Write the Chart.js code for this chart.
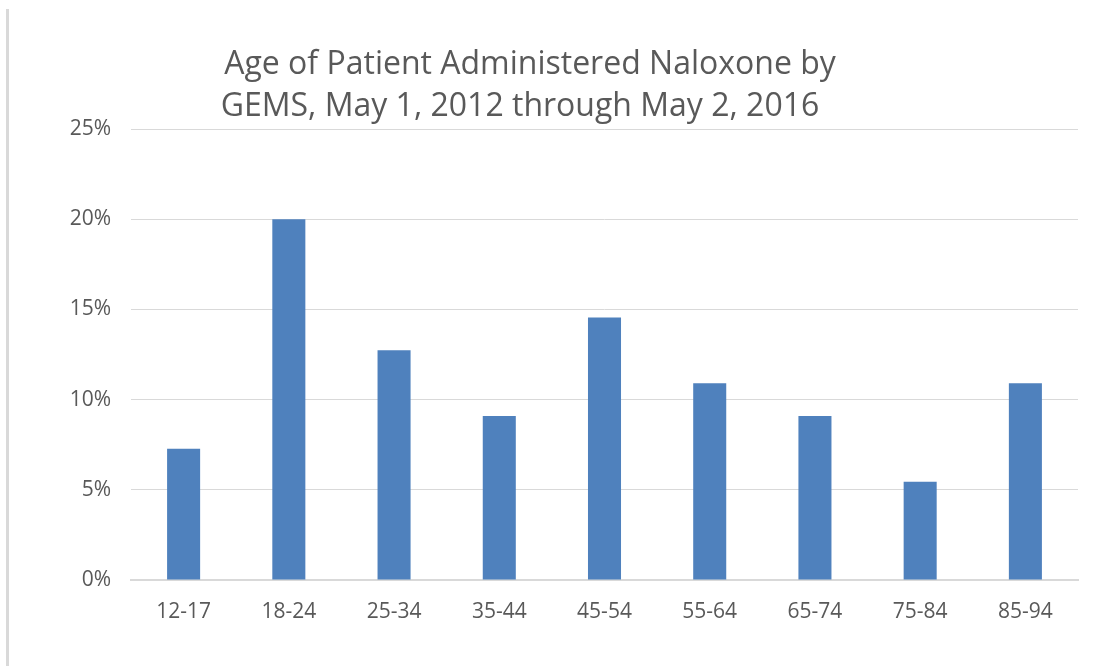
<!DOCTYPE html>
<html>
<head>
<meta charset="utf-8">
<script src="https://cdn.jsdelivr.net/npm/chart.js@4.4.0/dist/chart.umd.min.js"></script>
<style>
    html, body { margin: 0; padding: 0; background: #fff; }
    #wrap { position: relative; width: 1110px; height: 666px; }
    #edge { position: absolute; left: 6px; top: 9px; bottom: 0; width: 3px; background: #d9d9d9; }
    canvas { position: absolute; left: 0; top: 0; }
</style>
</head>
<body>
<div id="wrap">
    <div id="edge"></div>
    <canvas id="ageChart" width="1110" height="666"></canvas>
</div>
<script>
// Chart data
const ageGroups = ['12-17', '18-24', '25-34', '35-44', '45-54', '55-64', '65-74', '75-84', '85-94'];
const sharePct = [7.27, 20.0, 12.73, 9.09, 14.55, 10.91, 9.09, 5.45, 10.91];
const titleLines = ['Age of Patient Administered Naloxone by', 'GEMS, May 1, 2012 through May 2, 2016'];

const textColor = '#595959';
const gridColor = '#d9d9d9';

// Title is drawn by hand so it can sit off-centre like the original
const titlePlugin = {
    id: 'offsetTitle',
    afterDraw(chart) {
        const ctx = chart.ctx;
        ctx.save();
        ctx.fillStyle = textColor;
        ctx.font = '32px "Open Sans"';
        ctx.textAlign = 'center';
        ctx.textBaseline = 'middle';
        ctx.fillText(titleLines[0], 530, 65);
        ctx.fillText(titleLines[1], 520, 107);
        ctx.restore();
    }
};

const ctx = document.getElementById('ageChart').getContext('2d');
new Chart(ctx, {
    type: 'bar',
    data: {
        labels: ageGroups,
        datasets: [{
            label: 'Share of patients',
            data: sharePct,
            backgroundColor: '#4f81bd',
            barPercentage: 0.314,
            categoryPercentage: 1.0
        }]
    },
    options: {
        responsive: false,
        animation: false,
        layout: {
            padding: { top: 129, right: 32, bottom: 36, left: 0 }
        },
        plugins: {
            legend: { display: false },
            tooltip: { enabled: false }
        },
        scales: {
            y: {
                min: 0,
                max: 25,
                afterFit: s => { s.width = 131; },
                ticks: {
                    stepSize: 5,
                    padding: 20,
                    color: textColor,
                    font: { family: 'Open Sans', size: 21 },
                    callback: v => v + '%'
                },
                grid: { color: gridColor, lineWidth: 1, drawTicks: false },
                border: { display: false }
            },
            x: {
                afterFit: s => { s.height = 50; },
                ticks: {
                    padding: 19,
                    color: textColor,
                    font: { family: 'Open Sans', size: 21 }
                },
                grid: { display: false, drawTicks: false },
                border: { display: true, color: gridColor, width: 2 }
            }
        }
    },
    plugins: [titlePlugin]
});
</script>
</body>
</html>
